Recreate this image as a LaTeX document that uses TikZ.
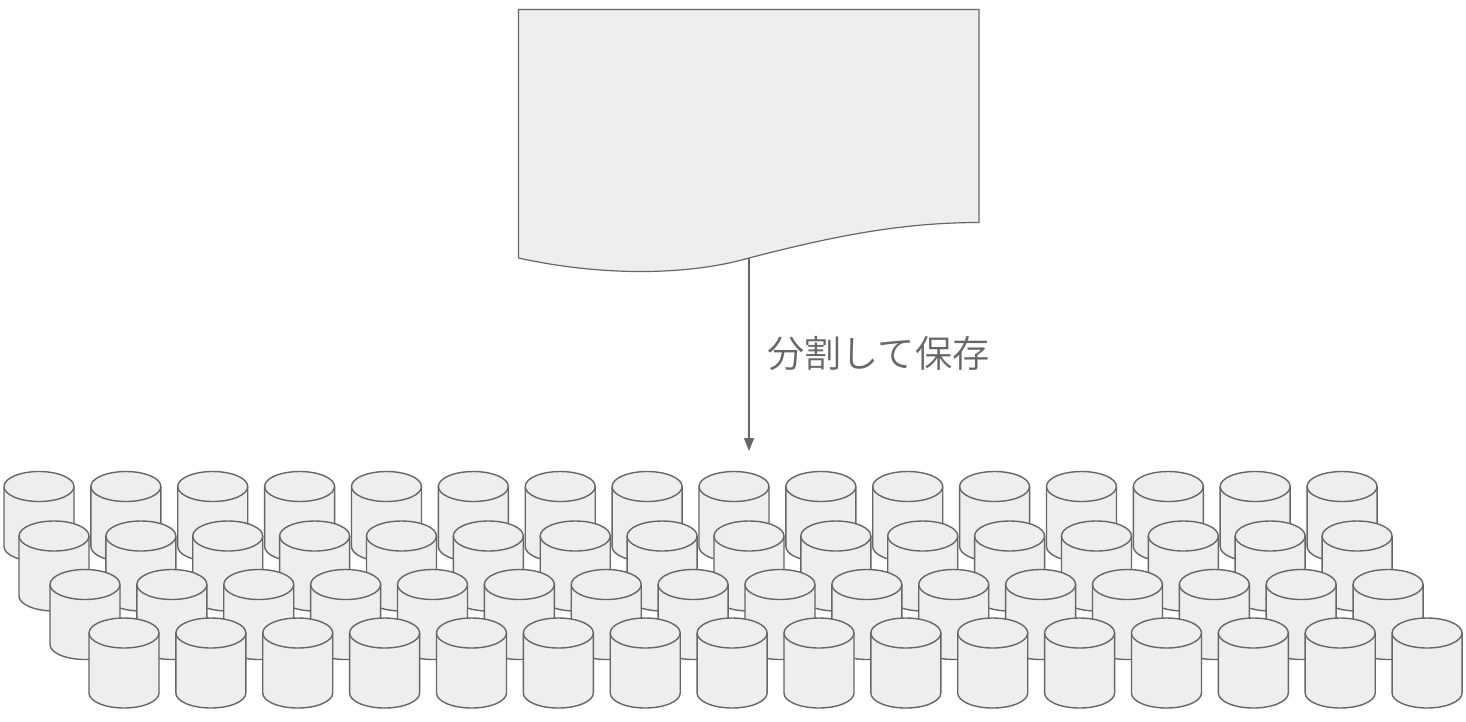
\documentclass[tikz,border=0pt]{standalone}
\usepackage{fontspec}
\newfontfamily\jpfont{Noto Sans CJK JP DemiLight}
\usetikzlibrary{arrows.meta}

\definecolor{linegray}{HTML}{666666}
\definecolor{fillgray}{HTML}{EEEEEE}

\tikzset{
  store part/.style={draw=linegray,fill=fillgray,line width=1.4pt},
  store/.pic={
    \draw[store part] (0,15) -- (0,75)
      .. controls (0,83.3) and (15.7,90) .. (35,90)
      .. controls (54.3,90) and (70,83.3) .. (70,75) -- (70,15)
      .. controls (70,6.7) and (54.3,0) .. (35,0)
      .. controls (15.7,0) and (0,6.7) .. (0,15) -- cycle;
    \draw[linegray,line width=1.4pt] (0,15)
      .. controls (0,23.3) and (15.7,30) .. (35,30)
      .. controls (54.3,30) and (70,23.3) .. (70,15);
  }
}

\begin{document}
\begin{tikzpicture}[x=1pt,y=-1pt,line width=1.2pt,
  >={Triangle[length=13pt,width=10pt]},
  doc box/.style={draw=linegray,fill=fillgray},
  split label/.style={font=\jpfont\fontsize{37.2}{37.2}\selectfont,text=linegray}]

  \useasboundingbox (0,0) rectangle (1466,721);

  \draw[doc box] (518.5,9.5) -- (979,9.5) -- (979,222.5)
    .. controls (900,222.5) and (830,237) .. (749,258)
    .. controls (690,275) and (605,277) .. (518.5,258) -- cycle;

  \coordinate (docfoot) at (749,258);
  \coordinate (storetop) at (749,451);
  \draw[->,draw=linegray,fill=linegray] (docfoot) -- (storetop);
  \node[split label] (splitlabel) at (878.5,353) {分割して保存};

  % back row first, so the front rows cover it
  \foreach \row/\startx/\starty in {1/4/471.5,2/19/521,3/50/569.5,4/89/618}
    \foreach \col in {0,...,15}
      \pic (store\row-\col) at ({\startx+86.87*\col},\starty) {store};
\end{tikzpicture}
\end{document}
